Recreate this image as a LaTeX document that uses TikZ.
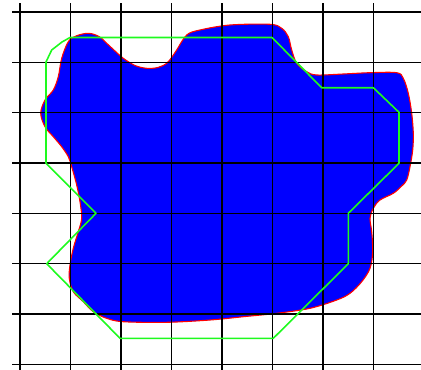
\documentclass[tikz,border=0pt]{standalone}
\usetikzlibrary{calc}
\definecolor{blobblue}{RGB}{0,0,255}
\definecolor{hullgreen}{RGB}{30,250,30}

\begin{document}
\begin{tikzpicture}[
            x=1pt,
            y=-1pt,
            line cap=round,
            line join=round
        ]

        \useasboundingbox (0,0) rectangle (421,370);

        % Region (blue with red rim)
        \draw[red, line width=1.1pt, fill=blobblue]
            plot[smooth cycle, tension=0.55] coordinates {
                (68.3,41.7) (76,36) (88.3,33.3) (99,36.5) (106.7,43.3)
                (115,51) (123.3,58.3) (135,65.5) (146.7,68.3) (158,67.5)
                (166.7,63.3) (172,57) (176.7,50) (186.7,35) (200,30)
                (230,25) (270,24.3) (281.7,28.3) (288.3,36.7) (291.7,50)
                (296.7,63.3) (306.7,71.7) (316.7,75) (343.3,74) (370,72.7)
                (396.7,72.7) (403.3,78.3) (408.3,93.3) (411.7,113.3)
                (413.3,133.3) (412.7,150) (410,166.7) (406.7,180)
                (401.7,186) (393.3,193.3) (380,200) (373.3,208.3)
                (370,218.3) (371.7,231.7) (372.7,251.7) (370,268.3)
                (361.7,281.7) (350,293.3) (336.7,300) (310,308.3)
                (276.7,313.3) (243.3,316.7) (210,320) (166.7,322.3)
                (123.3,321.7) (106.7,318.3) (93.3,311.7) (83.3,301.7)
                (73.3,291.7) (69.3,278.3) (70,265) (73.3,248.3)
                (78.3,231.7) (81.7,218.3) (80,201.7) (76.7,185)
                (71.7,166.7) (68.3,156.7) (61.7,146.7) (53.3,136.7)
                (45,126.7) (40.7,113.3) (45,100) (53.3,90) (58.3,76.7)
                (61.7,58.3)
            };

        % Grid
        \foreach \i in {0,...,7} {
            \draw[line width=1.6pt, line cap=butt]
                ({20+50.5*\i},3) -- ({20+50.5*\i},370);
            \draw[line width=1.6pt, line cap=butt]
                (12,{12+50.33*\i}) -- (421,{12+50.33*\i});
        }

        % Polygon around the region
        \draw[hullgreen, line width=1.6pt]
            (46,62) -- (51.7,50) -- (62,42) -- (70,37.5)
            -- (272,37.5) -- (321.7,87.7) -- (373.3,87.7)
            -- (399,112.3) -- (399,163.3) -- (348.3,213.3)
            -- (348.3,263.7) -- (273.3,338.3) -- (120,338.3)
            -- (46.7,263.7) -- (96,213.3) -- (46,163.3) -- cycle;

        \end{tikzpicture}
\end{document}
